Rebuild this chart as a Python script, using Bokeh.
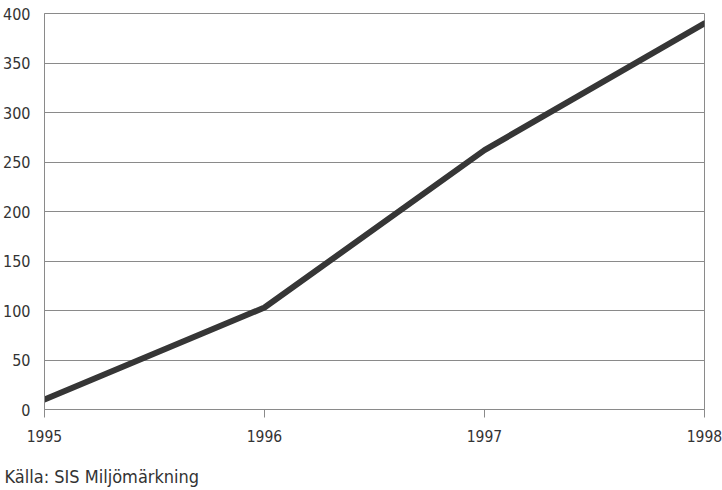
from bokeh.plotting import figure
from bokeh.models import Range1d, FixedTicker, Title
from bokeh.embed import file_html
from bokeh.resources import INLINE

years = [1995, 1996, 1997, 1998]
values = [10, 103, 262, 390]
y_ticks = [0, 50, 100, 150, 200, 250, 300, 350, 400]
source_text = "Källa: SIS Miljömärkning"

FONT = "DejaVu Sans Condensed"
GRID = "#8a8a8a"
TXT = "#333333"

p = figure(frame_width=660, frame_height=396, output_backend="svg", toolbar_location=None,
           x_range=Range1d(1995, 1998), y_range=Range1d(0, 400),
           min_border_left=43, min_border_right=18, min_border_top=13, min_border_bottom=0)

p.line(years, values, line_width=6, line_color="#363636", line_cap="round", line_join="round")

p.xaxis.ticker = FixedTicker(ticks=years)
p.yaxis.ticker = FixedTicker(ticks=y_ticks)
for ax in (p.xaxis[0], p.yaxis[0]):
    ax.axis_line_color = GRID
    ax.major_tick_line_color = GRID
    ax.minor_tick_line_color = None
    ax.major_label_text_font = FONT
    ax.major_label_text_font_size = "15.5px"
    ax.major_label_text_color = TXT
p.yaxis.major_label_text_font_size = "16px"
p.yaxis.major_tick_out = 0
p.yaxis.major_tick_in = 0
p.yaxis.major_label_standoff = 14
p.xaxis.major_tick_out = 8
p.xaxis.major_tick_in = 0
p.xaxis.major_label_standoff = 12

p.xgrid.grid_line_color = None
p.ygrid.grid_line_color = GRID
p.ygrid.grid_line_width = 1
p.outline_line_color = GRID
p.outline_line_alpha = 1

t = Title(text=source_text, align="left", text_font=FONT, text_font_size="18px",
          text_font_style="normal", text_color=TXT, offset=-40, standoff=39)
p.add_layout(t, "below")

open("out.html", "w").write(file_html(p, INLINE))
